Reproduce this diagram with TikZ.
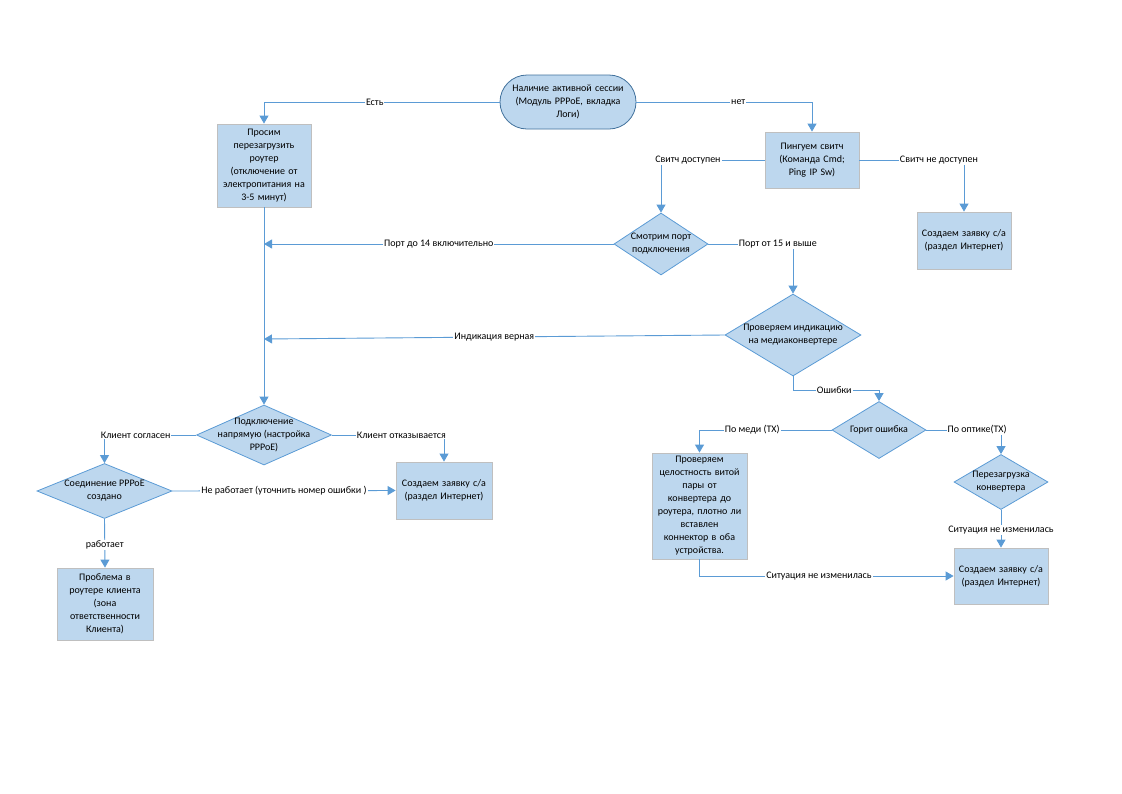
\documentclass[tikz,border=0pt]{standalone}
\usepackage{fontspec}
\setmainfont{Carlito}
\usetikzlibrary{arrows.meta,shapes.geometric}
\definecolor{fillb}{HTML}{BDD7EE}
\definecolor{lineb}{HTML}{5B9BD5}
\definecolor{rectb}{HTML}{BFBFBF}
\definecolor{dborder}{HTML}{41719C}
\begin{document}
\begin{tikzpicture}[x=1pt,y=-1pt,
 every node/.style={font=\fontsize{10}{13}\selectfont},
 box/.style={draw=rectb, fill=fillb, line width=0.8pt, align=center, inner sep=2pt},
 dia/.style={diamond, draw=lineb, fill=fillb, line width=0.8pt, inner sep=0pt},
 dtext/.style={align=center, inner sep=0pt},
 flow/.style={draw=lineb, line width=0.9pt, -{Triangle[length=8pt,width=9pt]}},
 lbl/.style={fill=white, inner sep=1pt}]
\useasboundingbox (0,0) rectangle (1122,793);

% nodes
\node[box, draw=dborder, rounded corners=27pt, minimum width=136pt, minimum height=54pt, text width=130pt] (start) at (568,102) {Наличие активной сессии\\(Модуль PPPoE, вкладка\\Логи)};
\node[box, minimum width=94pt, minimum height=83pt, text width=90pt] (reboot) at (264,165.5) {Просим\\перезагрузить\\роутер\\(отключение от\\электропитания на\\3-5 минут)};
\node[box, minimum width=94pt, minimum height=56pt, text width=90pt] (ping) at (812,160) {Пингуем свитч\\(Команда Cmd;\\Ping IP Sw)};
\node[box, minimum width=94pt, minimum height=57pt, text width=90pt] (ticket1) at (964,240.5) {Создаем заявку с/а\\(раздел Интернет)};

\node[dia, minimum width=94pt, minimum height=62pt] (port) at (661,244) {};
\node[dtext] at (port) {Смотрим порт\\подключения};
\node[dia, minimum width=136pt, minimum height=82pt] (ind) at (793,335) {};
\node[dtext] at (ind) {Проверяем индикацию\\на медиаконвертере};
\node[dia, minimum width=94pt, minimum height=57pt] (err) at (879,430) {};
\node[dtext] at (err) {Горит ошибка};
\node[box, minimum width=95pt, minimum height=106pt, text width=91pt] (copper) at (699.5,506) {Проверяем\\целостность витой\\пары от\\конвертера до\\роутера, плотно ли\\вставлен\\коннектор в оба\\устройства.};
\node[dia, minimum width=94pt, minimum height=55pt] (reconv) at (1001,482) {};
\node[dtext] at (reconv) {Перезагрузка\\конвертера};
\node[box, minimum width=94pt, minimum height=56pt, text width=90pt] (ticket3) at (1001,576) {Создаем заявку с/а\\(раздел Интернет)};

\node[dia, minimum width=135pt, minimum height=60pt] (direct) at (264,435) {};
\node[dtext] at (direct) {Подключение\\напрямую (настройка\\PPPoE)};
\node[dia, minimum width=135pt, minimum height=55pt] (pppoe) at (104.5,491) {};
\node[dtext] at (pppoe) {Соединение PPPoE\\создано};
\node[box, minimum width=96pt, minimum height=57pt, text width=92pt] (ticket2) at (444,490.5) {Создаем заявку с/а\\(раздел Интернет)};
\node[box, minimum width=96pt, minimum height=72pt, text width=92pt] (problem) at (105,604) {Проблема в\\роутере клиента\\(зона\\ответственности\\Клиента)};

\coordinate (j1) at (264,244);
\coordinate (j2) at (264,339);

% connectors
\draw[flow] (start.west) -| node[lbl, pos=0.265]{Есть} (reboot.north);
\draw[flow] (start.east) -| node[lbl, pos=0.29]{нет} (ping.north);
\draw[flow] (ping.west) -| node[lbl, pos=0.37]{Свитч доступен} (port.north);
\draw[flow] (ping.east) -| node[lbl, pos=0.38]{Свитч не доступен} (ticket1.north);
\draw[flow] (reboot.south) -- (direct.north);
\draw[flow] (port.west) -- node[lbl, pos=0.5]{Порт до 14 включительно} (j1);
\draw[flow] (port.east) -| node[lbl, pos=0.41]{Порт от 15 и выше} (ind.north);
\draw[flow] (ind.west) -- node[lbl, pos=0.5]{Индикация верная} (j2);
\draw[flow] (ind.south) -- ++(0,14) -| node[lbl, pos=0.24]{Ошибки} (err.north);
\draw[flow] (err.west) -| node[lbl, pos=0.30]{По меди (TX)} (copper.north);
\draw[flow] (err.east) -| node[lbl, pos=0.34]{По оптике(TX)} (reconv.north);
\draw[flow] (reconv.south) -- node[lbl, pos=0.54]{Ситуация не изменилась} (ticket3.north);
\draw[flow] (copper.south) |- node[lbl, pos=0.735]{Ситуация не изменилась} (ticket3.west);
\draw[flow] (direct.west) -| node[lbl, pos=0.33]{Клиент согласен} (pppoe.north);
\draw[flow] (direct.east) -| node[lbl, pos=0.31]{Клиент отказывается} (ticket2.north);
\draw[flow] (pppoe.east) -- node[lbl, pos=0.5]{Не работает (уточнить номер ошибки )} (ticket2.west);
\draw[flow] (pppoe.south) -- node[lbl, pos=0.54]{работает} (problem.north);
\end{tikzpicture}
\end{document}
